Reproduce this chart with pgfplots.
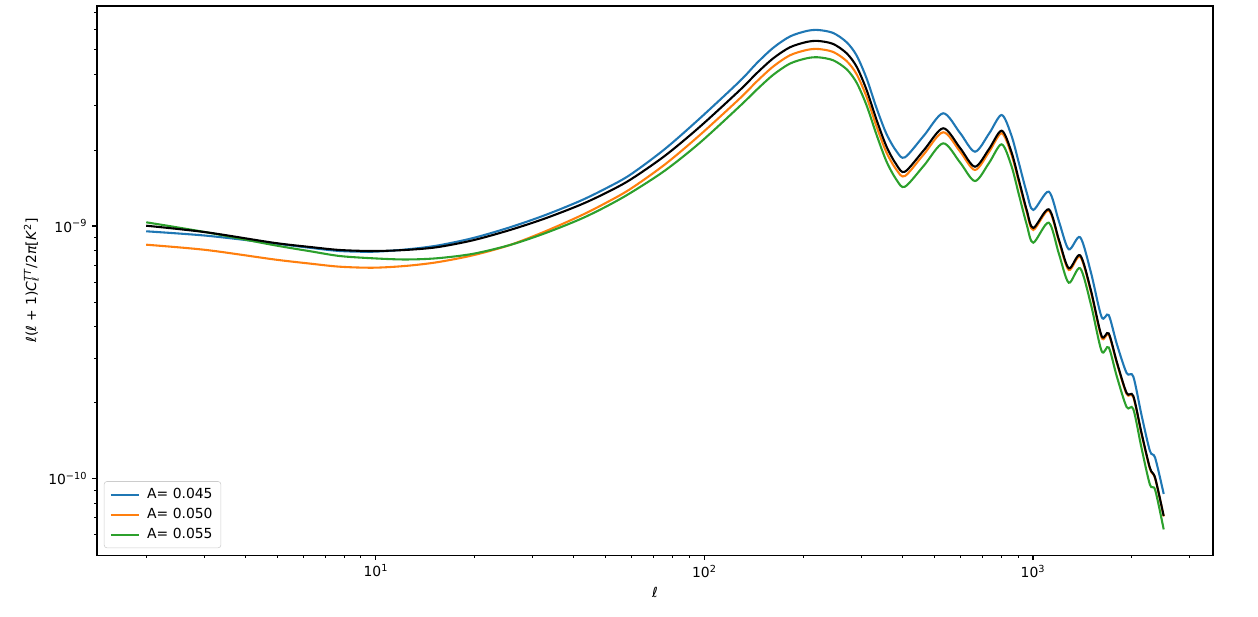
\documentclass[border=0pt]{standalone}
\usepackage{fontspec}
\setmainfont{DejaVu Sans}
\usepackage{pgfplots}
\pgfplotsset{compat=1.18}
\usepackage{pgfplotstable}
\definecolor{tabblue}{HTML}{1F77B4}
\definecolor{taborange}{HTML}{FF7F0E}
\definecolor{tabgreen}{HTML}{2CA02C}
\newcommand{\subsup}[2]{\rlap{\textsubscript{#1}}\textsuperscript{#2}}

% l(l+1)C_l/2pi in K^2
\pgfplotstableread{
l     blue       orange     green      black
2     0.9528e-9  0.8433e-9  1.0343e-9  1.0027e-9
3.05  0.9154e-9  0.8035e-9  0.9442e-9  0.9442e-9
4.87  0.8541e-9  0.7381e-9  0.8410e-9  0.8587e-9
6.3   0.8199e-9  0.7099e-9  0.7948e-9  0.8259e-9
7.77  0.7962e-9  0.6900e-9  0.7606e-9  0.8035e-9
9.8   0.7911e-9  0.6837e-9  0.7450e-9  0.7962e-9
12.25 0.8066e-9  0.6945e-9  0.7370e-9  0.8035e-9
15.3  0.8356e-9  0.7181e-9  0.7450e-9  0.8237e-9
19.74 0.8956e-9  0.7656e-9  0.7760e-9  0.8777e-9
25.6  0.9882e-9  0.8410e-9  0.8410e-9  0.9642e-9
32.7  1.1035e-9  0.9511e-9  0.9357e-9  1.0707e-9
41.8  1.2560e-9  1.0954e-9  1.0630e-9  1.2111e-9
49.8  1.4028e-9  1.2289e-9  1.1870e-9  1.3458e-9
59.3  1.5918e-9  1.3972e-9  1.3470e-9  1.5210e-9
75.8  2.0176e-9  1.7522e-9  1.6571e-9  1.8963e-9
96.9  2.6695e-9  2.2929e-9  2.1368e-9  2.4724e-9
128.3 3.7511e-9  3.2033e-9  2.9865e-9  3.4549e-9
144.2 4.4066e-9  3.7306e-9  3.4613e-9  4.0226e-9
162   5.0763e-9  4.2806e-9  3.9686e-9  4.6121e-9
182.1 5.6264e-9  4.7401e-9  4.3946e-9  5.0995e-9
204.7 5.9156e-9  4.9750e-9  4.6121e-9  5.3523e-9
222.1 5.9697e-9  5.0206e-9  4.6543e-9  5.4013e-9
246.6 5.8089e-9  4.8853e-9  4.5288e-9  5.2555e-9
271   5.3376e-9  4.4955e-9  4.1724e-9  4.8270e-9
290.6 4.7314e-9  3.9904e-9  3.6934e-9  4.2728e-9
311.7 3.8375e-9  3.2416e-9  2.9998e-9  3.4549e-9
334.3 2.9242e-9  2.4725e-9  2.2926e-9  2.6288e-9
358.5 2.3094e-9  1.9505e-9  1.7973e-9  2.0600e-9
384.7 1.9720e-9  1.6662e-9  1.5209e-9  1.7443e-9
407.8 1.8707e-9  1.5776e-9  1.4308e-9  1.6405e-9
466   2.2820e-9  1.9275e-9  1.7360e-9  1.9994e-9
533   2.7941e-9  2.3496e-9  2.1250e-9  2.4369e-9
600   2.3345e-9  1.9723e-9  1.7844e-9  2.0361e-9
666   1.9688e-9  1.6662e-9  1.5070e-9  1.7172e-9
735   2.3195e-9  1.9634e-9  1.7762e-9  2.0176e-9
803   2.7511e-9  2.3281e-9  2.1056e-9  2.3841e-9
860   2.2820e-9  1.9190e-9  1.7282e-9  1.9634e-9
906   1.7762e-9  1.4909e-9  1.3322e-9  1.5210e-9
957   1.3572e-9  1.1362e-9  1.0138e-9  1.1572e-9
1002  1.1572e-9  0.9642e-9  0.8587e-9  0.9819e-9
1117  1.3672e-9  1.1499e-9  1.0306e-9  1.1646e-9
1200  1.0419e-9  0.8682e-9  0.7746e-9  0.8802e-9
1285  0.8088e-9  0.6697e-9  0.5964e-9  0.6803e-9
1392  0.9022e-9  0.7558e-9  0.6803e-9  0.7656e-9
1500  0.6574e-9  0.5504e-9  0.4911e-9  0.5580e-9
1618  0.4362e-9  0.3612e-9  0.3199e-9  0.3668e-9
1700  0.4442e-9  0.3718e-9  0.3309e-9  0.3759e-9
1800  0.3410e-9  0.2868e-9  0.2536e-9  0.2894e-9
1928  0.2618e-9  0.2162e-9  0.1920e-9  0.2182e-9
2020  0.2536e-9  0.2104e-9  0.1886e-9  0.2123e-9
2140  0.1785e-9  0.1502e-9  0.1322e-9  0.1516e-9
2270  0.1286e-9  0.1093e-9  0.0946e-9  0.1101e-9
2355  0.1207e-9  0.1000e-9  0.0901e-9  0.1005e-9
2500  0.0869e-9  0.0708e-9  0.0629e-9  0.0711e-9
}\cltable

\begin{document}
\begin{tikzpicture}
\begin{axis}[
    scale only axis,
    width=803.5pt, height=395.3pt,
    xmode=log, ymode=log,
    xmin=1.416, xmax=3532,
    ymin=4.98e-11, ymax=7.43e-9,
    xtick={10,100,1000},
    xticklabels={10\textsuperscript{1},10\textsuperscript{2},10\textsuperscript{3}},
    ytick={1e-10,1e-9},
    yticklabels={10\textsuperscript{−10},10\textsuperscript{−9}},
    minor xtick={2,3,4,5,6,7,8,9,20,30,40,50,60,70,80,90,200,300,400,500,600,700,800,900,2000,3000},
    minor ytick={6e-11,7e-11,8e-11,9e-11,2e-10,3e-10,4e-10,5e-10,6e-10,7e-10,8e-10,9e-10,2e-9,3e-9,4e-9,5e-9,6e-9,7e-9},
    tick align=outside, tick pos=left,
    major tick length=3.5pt, minor tick length=2pt,
    every tick/.style={black, line width=0.8pt},
    minor tick style={line width=0.6pt},
    axis line style={line width=0.8pt},
    ticklabel style={font=\fontsize{10}{12}\selectfont},
    xlabel={\textit{ℓ}},
    xlabel style={font=\fontsize{10}{12}\selectfont},
    ylabel={\textit{ℓ}(\textit{ℓ} + 1)\textit{C}\subsup{\textit{ℓ}}{\textit{TT}}/2\textit{π}[\textit{K}\textsuperscript{2}]},
    ylabel style={font=\fontsize{10}{12}\selectfont},
    legend style={at={(0,0)}, anchor=south west, xshift=5pt, yshift=5pt,
        draw=black!20, rounded corners=2pt, font=\fontsize{10}{12}\selectfont,
        row sep=1.5pt, inner xsep=4pt, inner ysep=3pt},
    legend cell align=left,
    legend image code/.code={\draw[#1] (0pt,0pt) -- (20pt,0pt); \path (23.5pt,0pt);},
]
\addplot[tabblue, line width=1.5pt, smooth, tension=0.5] table[x=l, y=blue] {\cltable};
\addlegendentry{A= 0.045\hspace{3.5pt}}
\addplot[taborange, line width=1.5pt, smooth, tension=0.5] table[x=l, y=orange] {\cltable};
\addlegendentry{A= 0.050\hspace{3.5pt}}
\addplot[tabgreen, line width=1.5pt, smooth, tension=0.5] table[x=l, y=green] {\cltable};
\addlegendentry{A= 0.055\hspace{3.5pt}}
\addplot[black, line width=1.5pt, smooth, tension=0.5, forget plot] table[x=l, y=black] {\cltable};
\end{axis}
\path ([xshift=-69.8pt, yshift=-44.6pt]current axis.south west) rectangle ([xshift=32.4pt, yshift=4.3pt]current axis.north east);
\end{tikzpicture}
\end{document}
